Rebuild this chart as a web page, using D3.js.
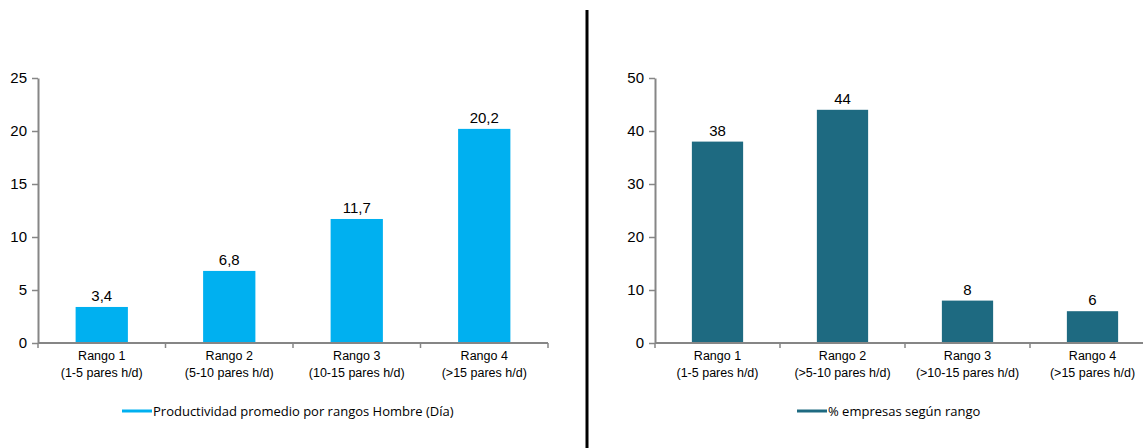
<!DOCTYPE html>
<html>
<head>
<meta charset="utf-8">
<script src="https://cdn.jsdelivr.net/npm/d3@7"></script>
<style>
  body { margin: 0; background: #fff; }
  svg { display: block; }
</style>
</head>
<body>
<svg id="chart" width="1143" height="448"></svg>
<script>
// Productivity by range (pairs per man-day)
const leftCategories = [["Rango 1", "(1-5 pares h/d)"], ["Rango 2", "(5-10 pares h/d)"], ["Rango 3", "(10-15 pares h/d)"], ["Rango 4", "(>15 pares h/d)"]];
const leftValues = [3.4, 6.8, 11.7, 20.2];
const leftTicks = [0, 5, 10, 15, 20, 25];
const leftLegend = "Productividad promedio por rangos Hombre (Día)";

// Share of companies per range (%)
const rightCategories = [["Rango 1", "(1-5 pares h/d)"], ["Rango 2", "(>5-10 pares h/d)"], ["Rango 3", "(>10-15 pares h/d)"], ["Rango 4", "(>15 pares h/d)"]];
const rightValues = [38, 44, 8, 6];
const rightTicks = [0, 10, 20, 30, 40, 50];
const rightLegend = "% empresas según rango";

const svg = d3.select("#chart");
const axisColor = "#868686";
const fmt = v => String(v).replace(".", ",");

function drawPanel(cfg) {
  const g = svg.append("g");
  const x = d3.scaleBand().domain(cfg.categories.map((d, i) => i))
    .range([cfg.x0, cfg.x1]).paddingInner(0).paddingOuter(0);
  const y = d3.scaleLinear().domain([0, cfg.max]).range([343, 78]);

  // y axis
  const yAxis = g.append("g").attr("transform", `translate(${cfg.x0},0)`)
    .call(d3.axisLeft(y).tickValues(cfg.ticks).tickSize(6).tickPadding(5).tickSizeOuter(0));
  yAxis.select(".domain").attr("stroke", axisColor).attr("stroke-width", 2);
  yAxis.selectAll(".tick line").attr("stroke", axisColor).attr("stroke-width", 1.5);
  yAxis.selectAll(".tick text").attr("fill", "#000")
    .style("font-family", "'Liberation Sans', Arial, sans-serif").style("font-size", "15px");

  // bars
  const bw = x.bandwidth() * 0.41;
  g.selectAll("rect.bar").data(cfg.values).join("rect")
    .attr("class", "bar")
    .attr("x", (d, i) => x(i) + (x.bandwidth() - bw) / 2)
    .attr("width", bw)
    .attr("y", d => y(d))
    .attr("height", d => y(0) - y(d))
    .attr("fill", cfg.color);

  // value labels
  g.selectAll("text.val").data(cfg.values).join("text")
    .attr("class", "val")
    .attr("x", (d, i) => x(i) + x.bandwidth() / 2)
    .attr("y", d => y(d) - 6)
    .attr("text-anchor", "middle")
    .style("font-family", "'Liberation Sans', Arial, sans-serif").style("font-size", "15px")
    .text(d => fmt(d));

  // x axis with ticks at band boundaries
  const xg = g.append("g");
  xg.append("line").attr("x1", cfg.x0).attr("x2", cfg.x1)
    .attr("y1", y(0)).attr("y2", y(0)).attr("stroke", axisColor).attr("stroke-width", 2);
  const bounds = cfg.categories.map((d, i) => x(i)).concat([cfg.x1]);
  xg.selectAll("line.tk").data(bounds).join("line").attr("class", "tk")
    .attr("x1", d => d).attr("x2", d => d)
    .attr("y1", y(0)).attr("y2", y(0) + 5)
    .attr("stroke", axisColor).attr("stroke-width", 1.5);

  const cats = xg.selectAll("text.cat").data(cfg.categories).join("text")
    .attr("class", "cat")
    .attr("text-anchor", "middle")
    .style("font-family", "'Liberation Sans', Arial, sans-serif").style("font-size", "12.5px");
  cats.selectAll("tspan").data((d, i) => d.map(t => ({t, i}))).join("tspan")
    .attr("x", d => x(d.i) + x.bandwidth() / 2)
    .attr("y", (d, j) => 360 + j * 16.5)
    .text(d => d.t);

  // legend
  const lg = g.append("g");
  lg.append("line").attr("x1", cfg.legendX).attr("x2", cfg.legendX + 30)
    .attr("y1", 411).attr("y2", 411).attr("stroke", cfg.color).attr("stroke-width", 3);
  lg.append("text").attr("x", cfg.legendX + 31).attr("y", 416)
    .style("font-family", "'Open Sans', 'Noto Sans', sans-serif").style("font-size", "13px")
    .text(cfg.legend);
}

drawPanel({ categories: leftCategories, values: leftValues, ticks: leftTicks, max: 25,
  x0: 38, x1: 548, color: "#00B0F0", legend: leftLegend, legendX: 122 });
drawPanel({ categories: rightCategories, values: rightValues, ticks: rightTicks, max: 50,
  x0: 655, x1: 1155, color: "#1E6A81", legend: rightLegend, legendX: 797 });

// separator between panels
svg.append("line").attr("x1", 587).attr("x2", 587).attr("y1", 10).attr("y2", 448)
  .attr("stroke", "#000").attr("stroke-width", 3);
</script>
</body>
</html>
